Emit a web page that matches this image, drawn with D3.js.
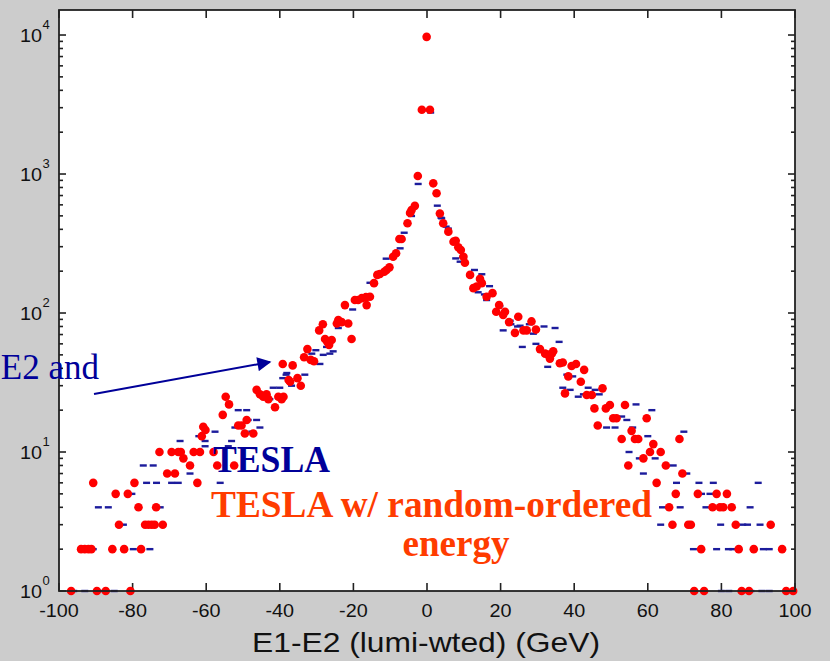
<!DOCTYPE html>
<html>
<head>
<meta charset="utf-8">
<script src="https://cdn.jsdelivr.net/npm/d3@7"></script>
<style>
  html, body { margin: 0; padding: 0; background: #cccccc; }
  svg { display: block; }
</style>
</head>
<body>
<div id="chart"></div>
<script>
// tick values
var xTicks = [-100, -80, -60, -40, -20, 0, 20, 40, 60, 80, 100];
var yDecades = [0, 1, 2, 3, 4];

// TESLA (blue dashes): [E1-E2 in GeV, entries]
var teslaPoints = [
  [-0.1, 9500], [-1.4, 2850], [1.0, 2770], [-2.4, 848], [2.8, 592], [-4.2, 499], [4.0, 480],
  [3.8, 485], [-6.2, 378], [5.2, 418], [5.8, 405], [-7.3, 292], [-11.1, 246], [7.8, 247],
  [9.0, 234], [9.7, 254], [-15.5, 165], [12.9, 204], [14.9, 190], [17.0, 156], [13.9, 141],
  [15.6, 136], [16.2, 124], [19.8, 112], [-20.2, 106], [22.8, 83], [22.6, 88], [24.6, 80],
  [25.3, 81], [27.8, 83], [20.7, 75], [25.9, 57], [-24.1, 78], [-27.3, 57], [-26.4, 51],
  [-25.5, 53], [-28.2, 50], [-30.2, 54], [-31.3, 51], [-29.1, 43], [-33.2, 36], [-36.8, 30],
  [-38.3, 36], [-39.2, 34],
  [-38.1, 37], [-40.0, 29], [-41.8, 29], [-42.7, 24], [-51.3, 20], [-49.0, 20], [-48.6, 17],
  [-46.3, 17], [-45.4, 15], [-47.6, 14], [-52.2, 15], [-57.6, 14], [-53.1, 12], [-60.3, 12],
  [-67.1, 12], [-61.2, 13], [-62.0, 13], [-60.3, 11], [-54.0, 11], [-64.4, 7], [-77.1, 8],
  [-74.4, 8], [-76.2, 6], [-73.5, 6], [-69.4, 6], [-67.6, 6], [-56.2, 6], [-80.2, 5],
  [-89.3, 4], [-86.6, 4], [-72.5, 4], [-82.5, 3], [-90.7, 2], [-79.8, 2], [-75.3, 2],
  [-96, 1], [-93, 1], [-89, 1], [-85, 1],
  [31.8, 80], [34.8, 78], [28.9, 71], [35.9, 62], [29.6, 60], [32.8, 41], [38.0, 36],
  [39.6, 35], [36.9, 29], [38.9, 28], [43.8, 29], [45.7, 28], [41.1, 25], [42.5, 26],
  [46.8, 26], [56.8, 22], [61.1, 20], [52.9, 18], [54.3, 17], [48.8, 15], [51.1, 15],
  [55.9, 15], [69.8, 14], [60.0, 13], [54.9, 10], [57.7, 9], [62.0, 9], [66.9, 8],
  [58.8, 7], [70.6, 7], [67.8, 6], [73.9, 6], [77.8, 6], [90.0, 6], [74.6, 5], [76.9, 5],
  [64.0, 4], [68.8, 4], [75.8, 4], [87.8, 4], [63.5, 3], [79.8, 3], [85.8, 3], [87.1, 3],
  [90.5, 3], [72.4, 2], [78.7, 2], [81.9, 2], [83.1, 2], [91.4, 2], [93.0, 2],
  [80, 1], [82, 1], [88, 1], [91, 1], [93, 1]
];

// TESLA w/ random-ordered energy (red dots)
var randomPoints = [
  [-0.1, 9700], [-1.4, 2900], [0.8, 2900], [-2.5, 968], [1.7, 857], [2.6, 727], [-3.3, 590],
  [-4.2, 550], [-4.6, 525], [3.5, 520], [4.4, 442], [-5.3, 442], [5.8, 385], [-6.9, 341],
  [-7.5, 341], [7.2, 326], [7.8, 331], [8.5, 297], [9.2, 284], [9.9, 254], [10.3, 230],
  [-8.4, 269], [-9.2, 254], [-10.2, 213], [-11.0, 204], [-11.6, 198], [-12.8, 191],
  [-13.5, 188], [-14.4, 164], [-15.5, 131], [-16.6, 130], [-17.7, 128], [-18.7, 124],
  [-19.6, 124], [-16.4, 114], [-22.3, 114], [11.7, 188], [14.4, 176], [14.9, 164],
  [13.5, 155], [12.6, 151], [17.8, 139], [16.2, 131], [19.6, 114], [21.2, 102], [20.7, 97],
  [18.8, 102], [24.8, 94], [23.9, 72], [22.3, 86], [26.2, 75], [27.1, 75], [-24.1, 89],
  [-23.2, 86], [-21.4, 84], [-24.5, 84], [-20.5, 65], [-28.3, 83], [-29.3, 75], [-27.7, 65],
  [-27.1, 62], [-25.9, 64], [-26.6, 59], [-32.5, 55], [-33.4, 48], [-31.6, 46], [-30.7, 45],
  [-36.5, 42], [-35.2, 34], [-34.3, 30], [-37.2, 32],
  [-39.2, 43], [-37.6, 33], [-46.3, 28], [-45.4, 26], [-43.6, 26], [-44.5, 25], [-43.1, 24],
  [-41.3, 21], [-40.4, 25], [-39.0, 25], [-39.5, 24], [-55.5, 18.5], [-53.8, 22],
  [-54.7, 25], [-51.3, 15.5], [-50.4, 15.5], [-49.0, 17], [-49.5, 13.6], [-47.2, 13.6],
  [-60.2, 14.4], [-60.8, 15.2], [-61.2, 13], [-72.7, 10], [-69.4, 10], [-67.6, 10],
  [-66.9, 10], [-63.4, 10], [-61.7, 10], [-58.0, 10], [-66.2, 9], [-64.4, 8], [-57.0, 8],
  [-52.4, 8], [-70.6, 7], [-68.5, 7], [-90.7, 6], [-79.5, 6], [-62.4, 6], [-84.6, 5],
  [-81.3, 5], [-78.4, 4], [-73.6, 4], [-83.7, 3], [-76.6, 3], [-75.7, 3], [-74.8, 3],
  [-74.0, 3], [-71.8, 3], [-94, 2], [-93, 2], [-92, 2], [-91.2, 2], [-85.5, 2], [-82.3, 2],
  [-77.7, 2], [-96.7, 1], [-89.7, 1], [-87.3, 1], [-80.6, 1],
  [28.4, 87], [29.6, 76], [30.7, 55], [32.1, 51], [33.0, 50], [33.9, 51], [34.3, 53],
  [33.4, 47], [36.1, 43.5], [36.9, 44], [39.3, 41.6], [40.5, 43], [42.7, 39], [38.4, 35],
  [41.8, 32], [47.7, 28.7], [37.5, 26.4], [43.4, 25.7], [44.8, 25.7], [45.5, 20.6],
  [48.6, 20.6], [49.7, 21.8], [53.8, 21.8], [50.6, 17.5], [51.5, 17.5], [59.7, 17.5],
  [46.4, 15.5], [55.6, 14.2], [52.9, 12.4], [56.5, 12.4], [57.4, 12.4], [68.6, 12.4],
  [61.5, 11.4], [60.6, 10], [63.5, 10], [58.8, 9], [54.7, 8], [64.9, 8], [69.4, 7],
  [62.4, 6], [67.6, 5], [73.6, 5], [78.7, 5], [81.5, 5], [65.8, 4], [77.6, 4], [79.6, 4],
  [80.5, 4], [82.8, 4], [66.7, 3], [71.0, 3], [71.7, 3], [83.9, 3], [93.4, 3], [74.5, 2],
  [84.7, 2], [88.8, 2], [96.5, 2], [72.6, 1], [75.3, 1], [85.5, 1], [87.5, 1], [97.6, 1],
  [99.5, 1]
];

var width = 830, height = 661;
var margin = {top: 10, right: 35, bottom: 70, left: 59};
var x0 = margin.left, x1 = width - margin.right,
    y0 = height - margin.bottom, y1 = margin.top;

var svg = d3.select("#chart").append("svg")
    .attr("width", width)
    .attr("height", height);

svg.append("rect")
    .attr("width", width).attr("height", height)
    .attr("fill", "#cccccc");

var x = d3.scaleLinear().domain([-100, 100]).range([x0, x1]);
var y = d3.scaleLog().domain([1, Math.pow(10, 4.18)]).range([y0, y1]);

svg.append("rect")
    .attr("x", x0).attr("y", y1)
    .attr("width", x1 - x0).attr("height", y0 - y1)
    .attr("fill", "#ffffff");

// ticks (inward, on all four sides)
var ticks = svg.append("g").attr("stroke", "#222").attr("stroke-width", 1.6);
xTicks.forEach(function(t) {
    ticks.append("line").attr("x1", x(t)).attr("x2", x(t)).attr("y1", y0).attr("y2", y0 - 8);
    ticks.append("line").attr("x1", x(t)).attr("x2", x(t)).attr("y1", y1).attr("y2", y1 + 8);
});
yDecades.forEach(function(d) {
    for (var m = 1; m <= 9; m++) {
        var v = m * Math.pow(10, d);
        if (v > y.domain()[1]) break;
        var len = m === 1 ? 7 : 4;
        ticks.append("line").attr("x1", x0).attr("x2", x0 + len).attr("y1", y(v)).attr("y2", y(v));
        ticks.append("line").attr("x1", x1).attr("x2", x1 - len).attr("y1", y(v)).attr("y2", y(v));
    }
});

// series
var plot = svg.append("g");
plot.selectAll("rect.tesla")
    .data(teslaPoints)
    .enter().append("rect")
    .attr("class", "tesla")
    .attr("x", function(d) { return x(d[0]) - 3.5; })
    .attr("y", function(d) { return y(d[1]) - 1.2; })
    .attr("width", 7)
    .attr("height", 2.4)
    .attr("fill", "#1c1c9c");

plot.selectAll("circle.random")
    .data(randomPoints)
    .enter().append("circle")
    .attr("class", "random")
    .attr("cx", function(d) { return x(d[0]); })
    .attr("cy", function(d) { return y(d[1]); })
    .attr("r", 4.3)
    .attr("fill", "#ff0000");

// frame
svg.append("rect")
    .attr("x", x0).attr("y", y1)
    .attr("width", x1 - x0).attr("height", y0 - y1)
    .attr("fill", "none")
    .attr("stroke", "#222")
    .attr("stroke-width", 1.8);

// tick labels, slightly wide like the original
function widen(sel, k) {
    sel.each(function() {
        var w = this.getComputedTextLength();
        d3.select(this).attr("textLength", w * k).attr("lengthAdjust", "spacingAndGlyphs");
    });
}

svg.append("g").selectAll("text")
    .data(xTicks)
    .enter().append("text")
    .attr("x", function(d) { return x(d); })
    .attr("y", 617)
    .attr("text-anchor", "middle")
    .attr("font-family", "Liberation Sans, Arial, sans-serif")
    .attr("font-size", 18)
    .attr("fill", "#111")
    .text(function(d) { return d; })
    .call(widen, 1.1);

var yl = svg.append("g")
    .attr("font-family", "Liberation Sans, Arial, sans-serif")
    .attr("fill", "#111");
yDecades.forEach(function(d) {
    var py = y(Math.pow(10, d));
    yl.append("text")
        .attr("x", 42).attr("y", py + 7)
        .attr("text-anchor", "end")
        .attr("font-size", 18)
        .text("10")
        .call(widen, 1.1);
    yl.append("text")
        .attr("x", 42.5).attr("y", py - 6)
        .attr("font-size", 13)
        .text(d);
});

svg.append("text")
    .attr("x", (x0 + x1) / 2 - 1)
    .attr("y", 652)
    .attr("text-anchor", "middle")
    .attr("font-family", "Liberation Sans, Arial, sans-serif")
    .attr("font-size", 28)
    .attr("fill", "#111")
    .attr("textLength", 348)
    .attr("lengthAdjust", "spacingAndGlyphs")
    .text("E1-E2 (lumi-wted) (GeV)");

// annotations
var navy = "#000099", orange = "#ff3c00";
svg.append("defs").append("marker")
    .attr("id", "head")
    .attr("viewBox", "0 0 10 10")
    .attr("refX", 9).attr("refY", 5)
    .attr("markerWidth", 8).attr("markerHeight", 7)
    .attr("markerUnits", "strokeWidth")
    .attr("orient", "auto")
    .append("path").attr("d", "M0,0L10,5L0,10Z").attr("fill", navy);

svg.append("line")
    .attr("x1", 94).attr("y1", 394)
    .attr("x2", 270).attr("y2", 362)
    .attr("stroke", navy).attr("stroke-width", 2)
    .attr("marker-end", "url(#head)");

svg.append("text")
    .attr("x", 99).attr("y", 379)
    .attr("text-anchor", "end")
    .attr("font-family", "Liberation Serif, Times New Roman, serif")
    .attr("font-size", 35)
    .attr("fill", navy)
    .text("E2 and");

var serif = "Liberation Serif, Times New Roman, serif";
svg.append("text")
    .attr("x", 213).attr("y", 472)
    .attr("font-family", serif).attr("font-weight", "bold")
    .attr("font-size", 37).attr("fill", navy)
    .attr("textLength", 117).attr("lengthAdjust", "spacingAndGlyphs")
    .text("TESLA");
svg.append("text")
    .attr("x", 211).attr("y", 517)
    .attr("font-family", serif).attr("font-weight", "bold")
    .attr("font-size", 37).attr("fill", orange)
    .attr("textLength", 441).attr("lengthAdjust", "spacingAndGlyphs")
    .text("TESLA w/ random-ordered");
svg.append("text")
    .attr("x", 456).attr("y", 556)
    .attr("text-anchor", "middle")
    .attr("font-family", serif).attr("font-weight", "bold")
    .attr("font-size", 37).attr("fill", orange)
    .attr("textLength", 107).attr("lengthAdjust", "spacingAndGlyphs")
    .text("energy");
</script>
</body>
</html>
